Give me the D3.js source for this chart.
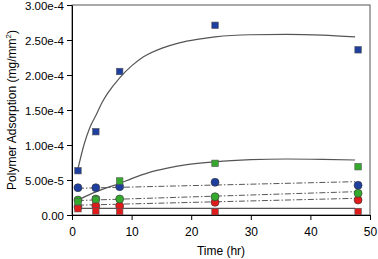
<!DOCTYPE html>
<html>
<head>
<meta charset="utf-8">
<script src="https://cdn.jsdelivr.net/npm/d3@7"></script>
<style>
  body { margin: 0; background: #fff; }
  text { font-family: "Liberation Sans", Arial, sans-serif; }
</style>
</head>
<body>
<svg id="chart" width="378" height="259"></svg>
<script>
// sample times (hr)
const times = [1, 4, 8, 24, 48];

// measured points
const blueSquares  = [6.33e-5, 1.19e-4, 2.05e-4, 2.71e-4, 2.36e-4];
const greenSquares = [1.9e-5, 2.2e-5, 4.86e-5, 7.38e-5, 6.9e-5];
const redSquares   = [9.0e-6, 5.7e-6, 5.0e-6, 4.7e-6, 5.0e-6];
const blueCircles  = [3.9e-5, 3.9e-5, 4.05e-5, 4.67e-5, 4.25e-5];
const greenCircles = [2.14e-5, 2.29e-5, 2.29e-5, 2.61e-5, 3.1e-5];
const redCircles   = [1.15e-5, 1.3e-5, 1.3e-5, 1.81e-5, 2.14e-5];

// fitted curves
const blueFitT = [1, 2, 3, 4, 5, 6, 8, 10, 12, 15, 18, 21, 24, 30, 36, 42, 47.5];
const blueFitV = [6.6e-5, 1.0e-4, 1.25e-4, 1.42e-4, 1.6e-4, 1.74e-4, 1.96e-4, 2.13e-4, 2.26e-4,
                  2.38e-4, 2.46e-4, 2.51e-4, 2.545e-4, 2.575e-4, 2.58e-4, 2.57e-4, 2.545e-4];
const greenFitT = [1, 2, 4, 6, 8, 10, 13, 16, 19, 24, 30, 36, 42, 47.5];
const greenFitV = [2.1e-5, 2.55e-5, 3.3e-5, 3.95e-5, 4.5e-5, 5.2e-5, 6.1e-5, 6.7e-5, 7.15e-5,
                   7.6e-5, 7.9e-5, 8.0e-5, 7.95e-5, 7.86e-5];
const redFitT = [1, 47.5];
const redFitV = [9.6e-6, 9.6e-6];

// linear dash-dot fits
const lineT = [1, 47.5];
const blueLineV  = [3.81e-5, 4.76e-5];
const greenLineV = [2.07e-5, 3.33e-5];
const redLineV   = [1.4e-5, 2.38e-5];

const xTicks = [0, 10, 20, 30, 40, 50];
const yTicks = [0, 5e-5, 1e-4, 1.5e-4, 2e-4, 2.5e-4, 3e-4];

const svg = d3.select("#chart");
const mLeft = 72, mRight = 370, mTop = 5, mBottom = 215;

const x = d3.scaleLinear().domain([0, 50]).range([mLeft, mRight]);
const y = d3.scaleLinear().domain([0, 3e-4]).range([mBottom, mTop]);

// frame
svg.append("rect")
    .attr("x", mLeft).attr("y", mTop)
    .attr("width", mRight - mLeft).attr("height", mBottom - mTop)
    .attr("fill", "none").attr("stroke", "#555").attr("stroke-width", 1);

// axes
const xAxis = d3.axisBottom(x).tickValues(xTicks).tickSize(5).tickSizeOuter(0);
svg.append("g")
    .attr("transform", `translate(0,${mBottom})`)
    .call(xAxis)
    .call(g => g.selectAll("text").attr("font-size", 12).attr("dy", "1.1em").attr("fill", "#000"));

const yAxis = d3.axisLeft(y).tickValues(yTicks).tickSize(5).tickSizeOuter(0)
    .tickFormat(d => d === 0 ? "0.00" : d3.format(".2e")(d));
svg.append("g")
    .attr("transform", `translate(${mLeft},0)`)
    .call(yAxis)
    .call(g => g.selectAll("text").attr("font-size", 11.5).attr("x", -8)
        .attr("dy", "0.42em").attr("fill", "#000"));

svg.selectAll(".domain").attr("stroke", "#000");

// axis titles
svg.append("text")
    .attr("x", (mLeft + mRight) / 2).attr("y", 255)
    .attr("text-anchor", "middle").attr("font-size", 12)
    .text("Time (hr)");

const ylab = svg.append("text")
    .attr("transform", `translate(16,${(mTop + mBottom) / 2}) rotate(-90)`)
    .attr("text-anchor", "middle").attr("font-size", 12);
ylab.append("tspan").text("Polymer Adsorption (mg/mm");
ylab.append("tspan").attr("font-size", 8).attr("dy", -5).text("2");
ylab.append("tspan").attr("dy", 5).text(")");

// lines
const line = d3.line().x(d => x(d[0])).y(d => y(d[1]));
const curve = d3.line().x(d => x(d[0])).y(d => y(d[1])).curve(d3.curveMonotoneX);

function pairs(ts, vs) { return ts.map((t, i) => [t, vs[i]]); }

[[lineT, redLineV], [lineT, greenLineV], [lineT, blueLineV]].forEach(([ts, vs]) => {
    svg.append("path")
        .attr("d", line(pairs(ts, vs)))
        .attr("fill", "none").attr("stroke", "#444")
        .attr("stroke-width", 0.9)
        .attr("stroke-dasharray", "6,2,1.5,2");
});

[[redFitT, redFitV], [greenFitT, greenFitV], [blueFitT, blueFitV]].forEach(([ts, vs]) => {
    svg.append("path")
        .attr("d", curve(pairs(ts, vs)))
        .attr("fill", "none").attr("stroke", "#555")
        .attr("stroke-width", 1.2);
});

// markers
const colors = { red: "#e01b1b", green: "#35a92d", blue: "#1f3f9f" };

function circles(vals, col) {
    svg.append("g").selectAll("circle")
        .data(pairs(times, vals)).enter().append("circle")
        .attr("cx", d => x(d[0])).attr("cy", d => y(d[1]))
        .attr("r", 4)
        .attr("fill", col).attr("stroke", "#333").attr("stroke-width", 0.6);
}
function squares(vals, col) {
    const s = 6.5;
    svg.append("g").selectAll("rect")
        .data(pairs(times, vals)).enter().append("rect")
        .attr("x", d => x(d[0]) - s / 2).attr("y", d => y(d[1]) - s / 2)
        .attr("width", s).attr("height", s)
        .attr("fill", col).attr("stroke", "#555").attr("stroke-width", 0.6);
}

circles(redCircles, colors.red);
circles(greenCircles, colors.green);
circles(blueCircles, colors.blue);
squares(redSquares, colors.red);
squares(greenSquares, colors.green);
squares(blueSquares, colors.blue);
</script>
</body>
</html>
